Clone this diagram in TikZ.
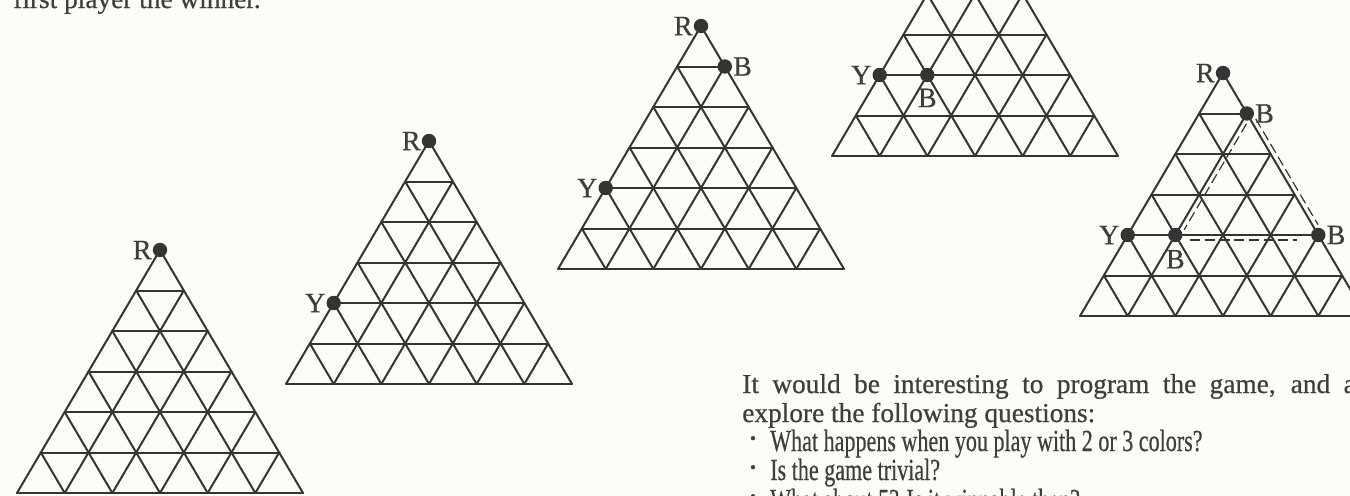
\documentclass[tikz,border=0pt]{standalone}
\usepackage{fontspec}
\setmainfont{Liberation Serif}
\newfontfamily\scanfont[FakeBold=0.6]{Liberation Serif}
\usetikzlibrary{calc}
\definecolor{ink}{RGB}{52,52,52}
\definecolor{txt}{RGB}{62,62,62}
\definecolor{paper}{RGB}{253,253,248}
\newcommand\mybody{\scanfont\fontsize{20.5}{24}\selectfont}
\newcommand\mybul{\scanfont\fontsize{23}{26}\selectfont}
\newcommand\mylab{\scanfont\fontsize{21}{24}\selectfont}
\newcommand\narrow[1]{\scalebox{0.72}[1]{#1}}
\begin{document}
\begin{tikzpicture}[x=0.75pt,y=-0.75pt,
  gridln/.style={draw=ink, line width=1.5pt, line cap=round, line join=round},
  dot/.style={circle, fill=ink, inner sep=0pt, minimum size=10.8pt},
  lab/.style={text=txt, font=\mylab, inner sep=0.5pt},
  txtst/.style={text=txt, font=\mybody, inner sep=0pt},
  bultxt/.style={text=txt, font=\mybul, inner sep=0pt},
  bul/.style={text=txt, font=\scanfont\fontsize{13}{13}\selectfont, inner sep=0pt},
  dashln/.style={draw=ink, line width=0.9pt, dash pattern=on 7.5pt off 3.5pt},
  trigrid/.pic={
    \foreach \k in {1,...,6} {\draw[gridln] ({-\k*23.83},{\k*40.5}) -- ({\k*23.83},{\k*40.5});}
    \foreach \k in {0,...,5} {
      \draw[gridln] ({\k*23.83},{\k*40.5}) -- ({(2*\k-6)*23.83},243);
      \draw[gridln] ({-\k*23.83},{\k*40.5}) -- ({(6-2*\k)*23.83},243);
    }
  }
]
\useasboundingbox (0,0) rectangle (1350,496);
\fill[paper] (0,0) rectangle (1350,496);
\clip (0,0) rectangle (1350,496);

% top text
\node[txtst, anchor=base west] (toptext) at (13,8) {first player the winner.};

% triangles
\pic (t1) at (160,250) {trigrid};
\pic (t2) at (429,141) {trigrid};
\pic (t3) at (701,26) {trigrid};
\pic (t4) at (975,-87) {trigrid};
\pic (t5) at (1223,73) {trigrid};

% triangle 1
\node[dot, label={[lab]left:R}] (r1) at (160,250) {};
% triangle 2
\node[dot, label={[lab]left:R}] (r2) at (429,141) {};
\node[dot, label={[lab]left:Y}] (y2) at (333.7,303) {};
% triangle 3
\node[dot, label={[lab]left:R}] (r3) at (701,26) {};
\node[dot, label={[lab]right:B}] (b3) at (724.8,66.5) {};
\node[dot, label={[lab]left:Y}] (y3) at (605.7,188) {};
% triangle 4
\node[dot, label={[lab]left:Y}] (y4) at (879.7,75) {};
\node[dot, label={[lab, label distance=4pt]below:B}] (b4) at (927.3,75) {};
% triangle 5
\node[dot, label={[lab]left:R}] (r5) at (1223,73) {};
\node[dot, label={[lab]right:B}] (b5a) at (1246.8,113.5) {};
\node[dot, label={[lab]left:Y}] (y5) at (1127.7,235) {};
\node[dot, label={[lab, label distance=5pt]below:B}] (b5b) at (1175.3,235) {};
\node[dot, label={[lab]right:B}] (b5c) at (1318.3,235) {};

% dashed connectors (offset parallel to grid lines)
\coordinate (d1s) at (1246.5,123.8);
\coordinate (d1e) at (1184.2,229.7);
\coordinate (d2s) at (1255.7,118.8);
\coordinate (d2e) at (1318,224.7);
\coordinate (d3s) at (1190.3,240);
\coordinate (d3e) at (1297.3,240);
\draw[dashln] (d1s) -- (d1e);
\draw[dashln] (d2s) -- (d2e);
\draw[dashln] (d3s) -- (d3e);

% paragraph
\node[txtst, anchor=base west] (p1) at (742,393) {\makebox[484pt][s]{It would be interesting to program the game, and also}};
\node[txtst, anchor=base west] (p2) at (742,422) {explore the following questions:};
\node[bul] (bu1) at (753,440) {•};
\node[bultxt, anchor=base west] (p3) at (770,451) {\narrow{What happens when you play with 2 or 3 colors?}};
\node[bul] (bu2) at (753,469) {•};
\node[bultxt, anchor=base west] (p4) at (770,480) {\narrow{Is the game trivial?}};
\node[bul] (bu3) at (753,498) {•};
\node[bultxt, anchor=base west] (p5) at (770,510) {\narrow{What about 5? Is it winnable then?}};
\end{tikzpicture}
\end{document}
